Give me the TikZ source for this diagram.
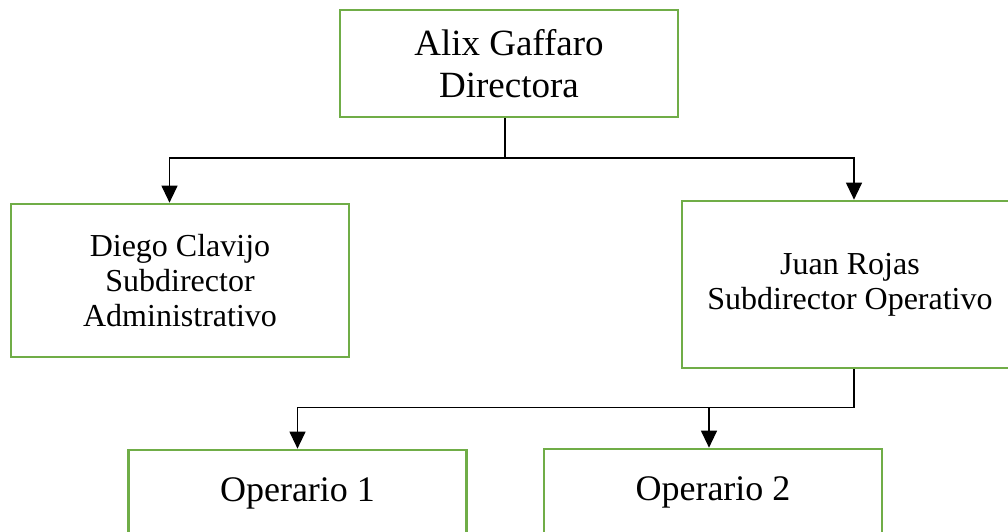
\documentclass[tikz,border=0pt]{standalone}
\usepackage{fontspec}
\setmainfont{Liberation Serif}
\usepackage{tikz}
\usetikzlibrary{arrows.meta}
\definecolor{boxgreen}{HTML}{70AD47}
\tikzset{
	post/.style={draw=boxgreen,line width=2.7pt,align=center,inner sep=0pt,minimum width=338pt},	%green boxes
	link/.style={line width=1.2pt},
	arrow/.style={link,-{Triangle[length=17pt,width=16pt]}}
}

\begin{document}
\begin{tikzpicture}[x=1pt,y=-1pt]
	\useasboundingbox (0,0) rectangle (1008,531);
	\clip (0,0) rectangle (1008,531);

	%boxes
	\node[post,minimum height=107pt,font=\fontsize{37}{42}\selectfont] (dir) at (509,63.5)	{Alix Gaffaro\\Directora};
	\node[post,minimum height=153pt,font=\fontsize{32}{35}\selectfont] (sub1) at (180,280.5)	{Diego Clavijo\\Subdirector\\Administrativo};
	\node[post,minimum width=336pt,minimum height=167pt,font=\fontsize{32}{35}\selectfont] (sub2) at (850,284.5)	{Juan Rojas\\Subdirector Operativo};
	\node[post,minimum height=86pt,font=\fontsize{36}{40}\selectfont] (op1) at (297.5,493)	{Operario 1};
	\node[post,minimum height=86pt,font=\fontsize{36}{40}\selectfont] (op2) at (713,492)	{Operario 2};

	%connectors
	\coordinate (j1) at (505,158);
	\coordinate (j2) at (854,407.5);
	\draw[link] (j1 |- dir.south) -- (j1);
	\draw[arrow] (j1) -| ([xshift=-10.5pt]sub1.north);	%left
	\draw[arrow] (j1) -| ([xshift=4pt]sub2.north);		%right
	\draw[link] ([xshift=4pt]sub2.south) -- (j2);
	\draw[arrow] (j2) -| (op1.north);
	\draw[arrow] (j2) -| ([xshift=-4pt]op2.north);
\end{tikzpicture}
\end{document}
